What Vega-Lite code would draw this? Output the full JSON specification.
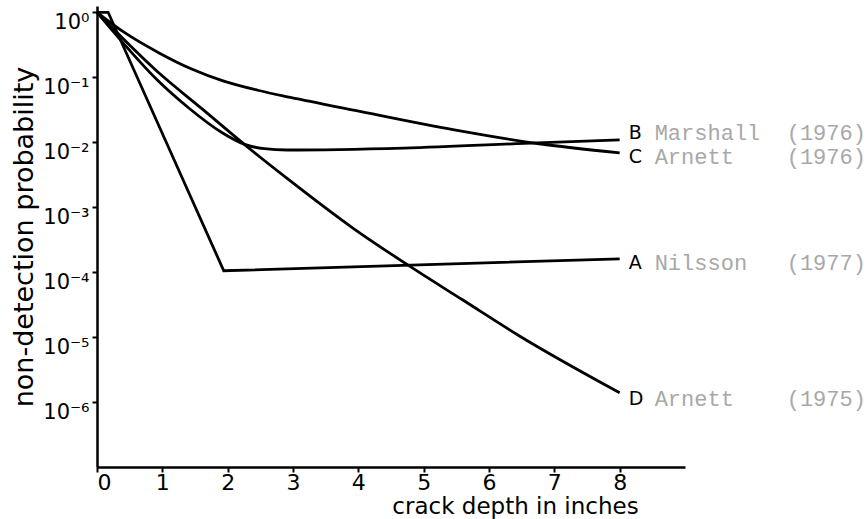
{
  "$schema": "https://vega.github.io/schema/vega-lite/v6.json",
  "width": 588,
  "height": 461,
  "autosize": "none",
  "padding": {"left": 97, "top": 6, "right": 183, "bottom": 52},
  "background": "white",
  "config": {
    "font": "DejaVu Sans",
    "view": {"stroke": null},
    "axis": {
      "grid": false,
      "domainColor": "black",
      "domainWidth": 2.5,
      "tickColor": "black",
      "tickWidth": 2,
      "labelColor": "black",
      "titleColor": "black",
      "labelFont": "DejaVu Sans",
      "titleFont": "DejaVu Sans",
      "titleFontWeight": "normal"
    }
  },
  "datasets": {
    "curves": [
      {"series": "A", "x": 0, "y": 1},
      {"series": "A", "x": 0.17, "y": 1},
      {"series": "A", "x": 1.94, "y": 0.000105},
      {"series": "A", "x": 8, "y": 0.00016},
      {"series": "B", "x": 0, "y": 1},
      {"series": "B", "x": 0.46, "y": 0.288},
      {"series": "B", "x": 0.9, "y": 0.0955},
      {"series": "B", "x": 1.4, "y": 0.0339},
      {"series": "B", "x": 1.91, "y": 0.0141},
      {"series": "B", "x": 2.25, "y": 0.00933},
      {"series": "B", "x": 2.56, "y": 0.00794},
      {"series": "B", "x": 2.91, "y": 0.00759},
      {"series": "B", "x": 4.7, "y": 0.00813},
      {"series": "B", "x": 6.74, "y": 0.00977},
      {"series": "B", "x": 8, "y": 0.01084},
      {"series": "C", "x": 0, "y": 1},
      {"series": "C", "x": 0.43, "y": 0.481},
      {"series": "C", "x": 0.95, "y": 0.237},
      {"series": "C", "x": 1.44, "y": 0.135},
      {"series": "C", "x": 1.94, "y": 0.0871},
      {"series": "C", "x": 2.46, "y": 0.0631},
      {"series": "C", "x": 2.96, "y": 0.049},
      {"series": "C", "x": 3.95, "y": 0.0309},
      {"series": "C", "x": 5.47, "y": 0.0155},
      {"series": "C", "x": 6.74, "y": 0.00955},
      {"series": "C", "x": 8, "y": 0.00684},
      {"series": "D", "x": 0, "y": 1},
      {"series": "D", "x": 0.91, "y": 0.126},
      {"series": "D", "x": 1.6, "y": 0.0331},
      {"series": "D", "x": 2.36, "y": 0.00759},
      {"series": "D", "x": 2.9, "y": 0.00282},
      {"series": "D", "x": 3.9, "y": 0.00049},
      {"series": "D", "x": 4.85, "y": 0.000112},
      {"series": "D", "x": 5.6, "y": 0.0000372},
      {"series": "D", "x": 6.46, "y": 0.0000105},
      {"series": "D", "x": 8, "y": 0.00000139}
    ],
    "labels": [
      {"letter": "B", "name": "Marshall\u00a0\u00a0(1976)", "x": 8, "y": 0.0137},
      {"letter": "C", "name": "Arnett\u00a0\u00a0\u00a0\u00a0(1976)", "x": 8, "y": 0.00594},
      {"letter": "A", "name": "Nilsson\u00a0\u00a0\u00a0(1977)", "x": 8, "y": 0.000139},
      {"letter": "D", "name": "Arnett\u00a0\u00a0\u00a0\u00a0(1975)", "x": 8, "y": 0.00000112}
    ]
  },
  "encoding": {
    "x": {
      "field": "x",
      "type": "quantitative",
      "scale": {"domain": [0, 9], "nice": false, "zero": false},
      "axis": {
        "values": [0, 1, 2, 3, 4, 5, 6, 7, 8],
        "format": "d",
        "labelFontSize": 22,
        "labelPadding": 0,
        "tickSize": 5,
        "title": "crack depth in inches",
        "titleFontSize": 23,
        "titleX": 418,
        "titleY": 46,
        "titleAlign": "center",
        "titleBaseline": "alphabetic"
      }
    },
    "y": {
      "field": "y",
      "type": "quantitative",
      "scale": {"type": "log", "domain": [0.0000001, 1.25], "nice": false},
      "axis": {
        "values": [1, 0.1, 0.01, 0.001, 0.0001, 0.00001, 0.000001],
        "labelExpr": "datum.value > 0.5 ? '10⁰' : datum.value > 0.05 ? '10⁻¹' : datum.value > 0.005 ? '10⁻²' : datum.value > 0.0005 ? '10⁻³' : datum.value > 0.00005 ? '10⁻⁴' : datum.value > 0.000005 ? '10⁻⁵' : '10⁻⁶'",
        "labelFontSize": 21,
        "labelPadding": 3,
        "labelOffset": 10,
        "labelBaseline": "middle",
        "tickSize": 5,
        "title": "non-detection probability",
        "titleFontSize": 27,
        "titleX": -65,
        "titleBaseline": "alphabetic"
      }
    }
  },
  "layer": [
    {
      "data": {"name": "curves"},
      "transform": [{"filter": "datum.series === 'A'"}],
      "mark": {"type": "line", "interpolate": "linear", "color": "black", "strokeWidth": 2.8},
      "encoding": {"detail": {"field": "series"}}
    },
    {
      "data": {"name": "curves"},
      "transform": [{"filter": "datum.series !== 'A'"}],
      "mark": {"type": "line", "interpolate": "monotone", "color": "black", "strokeWidth": 2.8},
      "encoding": {"detail": {"field": "series"}}
    },
    {
      "data": {"name": "labels"},
      "mark": {"type": "text", "align": "left", "baseline": "middle", "dx": 9, "fontSize": 19, "font": "DejaVu Sans", "color": "black"},
      "encoding": {"text": {"field": "letter"}}
    },
    {
      "data": {"name": "labels"},
      "mark": {"type": "text", "align": "left", "baseline": "middle", "dx": 35, "fontSize": 22, "font": "Liberation Mono", "color": "#a8a8a8"},
      "encoding": {"text": {"field": "name"}}
    }
  ]
}
